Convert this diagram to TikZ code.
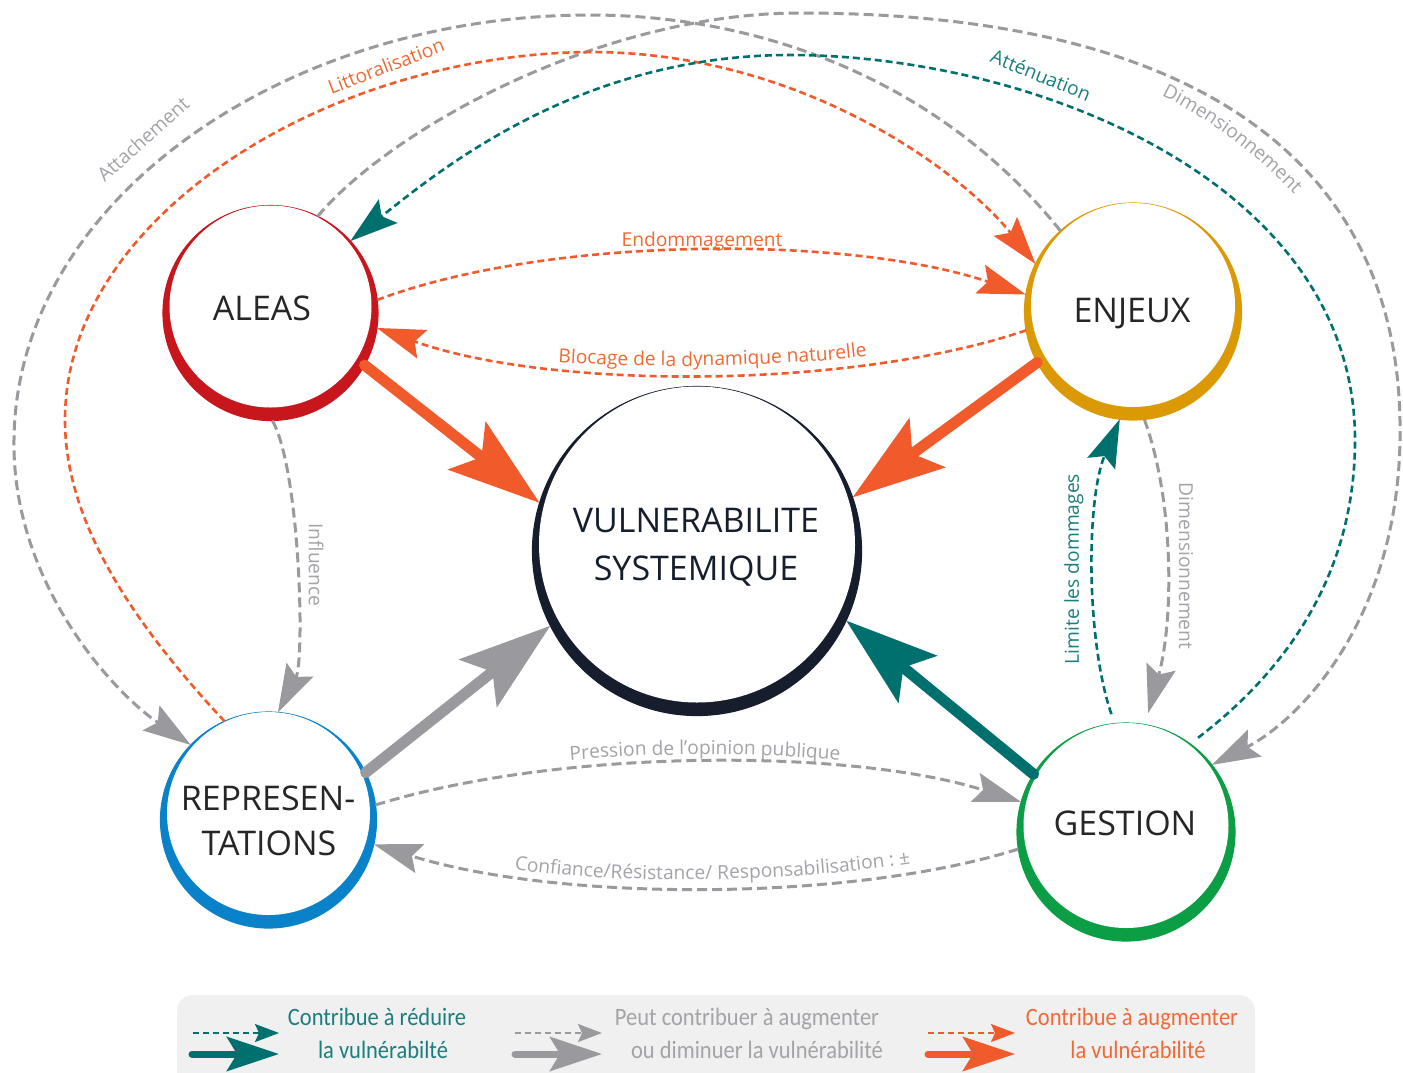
\documentclass[tikz,border=0pt]{standalone}
\usepackage{fontspec}
\setmainfont{Open Sans}
\newfontfamily\legfont{Carlito}[FakeStretch=0.9]
\usetikzlibrary{arrows.meta,decorations.text}
\definecolor{cteal}{HTML}{00706F}
\definecolor{corange}{HTML}{F15A2B}
\definecolor{cgray}{HTML}{9A999E}
\definecolor{cgraytext}{HTML}{A3A3A8}
\definecolor{corangetext}{HTML}{F06A35}
\definecolor{ctealtext}{HTML}{1B7E7E}
\definecolor{cred}{HTML}{C8161D}
\definecolor{cgold}{HTML}{DB9A05}
\definecolor{cblue}{HTML}{0A82CA}
\definecolor{cgreen}{HTML}{0C9E45}
\definecolor{cnavy}{HTML}{161E2E}
\definecolor{clegbg}{HTML}{F0F0F0}
\definecolor{ctext}{HTML}{262626}
\newcommand\ringdraw[5]{%
  \fill[#4] (#1,-#2) circle[radius=#3];
  \draw[#4, line width=0.6pt] (#1,-#2) circle[radius=#3];
  \fill[white] (#1,-#2+#5/2) circle[radius=#3-#5/2];}
\begin{document}
\begin{tikzpicture}[x=0.5pt,y=0.5pt,
  anch/.style={circle, draw=none, inner sep=0pt, outer sep=0pt},
  bigtxt/.style={font=\fontsize{17}{23}\selectfont, text=ctext, anchor=base, inner sep=0pt},
  lab/.style={font=\fontsize{9.6}{11}\selectfont, inner sep=0pt},
  thintip/.style={-{Stealth[length=24pt,width=15pt,inset=4pt]}},
  gline/.style={cgray, line width=1.5pt, dash pattern=on 5pt off 2.5pt, thintip},
  oline/.style={corange, line width=1.3pt, dash pattern=on 3.5pt off 2pt, thintip},
  tline/.style={cteal, line width=1.3pt, dash pattern=on 3.5pt off 2pt, thintip},
  fatarrow/.style={line width=5.5pt, line cap=round, -{Stealth[length=46pt,width=30pt,inset=9pt]}},
  legtxt/.style={font=\legfont\fontsize{12.5}{14}\selectfont, anchor=base, inner sep=0pt},
  legthin/.style={line width=1pt, dash pattern=on 3pt off 2pt, -{Stealth[length=12pt,width=9pt,inset=2pt]}},
  legfat/.style={line width=3.5pt, line cap=round, -{Stealth[length=26pt,width=17pt,inset=5pt]}},
]
\useasboundingbox (0,0) rectangle (1403,-1072);
\fill[white] (0,0) rectangle (1403,-1072);

% rings
\ringdraw{270.5}{313}{107.5}{cred}{13}
\ringdraw{1133}{311.5}{108.5}{cgold}{13}
\ringdraw{697}{551}{164.5}{cnavy}{13}
\ringdraw{268.5}{820}{108}{cblue}{13}
\ringdraw{1126}{832}{109}{cgreen}{13}

% anchor nodes
\node[anch, minimum size=107.5pt] (aleas) at (270.5,-313) {};
\node[anch, minimum size=108.5pt] (enjeux) at (1133,-311.5) {};
\node[anch, minimum size=164.5pt] (vuln) at (697,-551) {};
\node[anch, minimum size=108pt] (repr) at (268.5,-820) {};
\node[anch, minimum size=109pt] (gestion) at (1126,-832) {};

% texts in circles
\node[bigtxt] (taleas) at (262,-320) {ALEAS};
\node[bigtxt] (tenjeux) at (1132,-322) {ENJEUX};
\node[bigtxt] (tgestion) at (1125,-835) {GESTION};
\node[bigtxt] (trepr1) at (268,-810) {REPRESEN-};
\node[bigtxt] (trepr2) at (269,-855) {TATIONS};
\node[bigtxt, text=cnavy] (tvuln1) at (696,-532) {VULNERABILITE};
\node[bigtxt, text=cnavy] (tvuln2) at (696,-580) {SYSTEMIQUE};

% big outer arcs
\draw[gline] (enjeux.132) .. controls (940,-80) and (760,-15) .. (590,-15)
  .. controls (285,-15) and (16,-200) .. (14,-440)
  .. controls (12,-580) and (110,-690) .. (repr.136);
\draw[gline] (aleas.64) .. controls (390,-130) and (600,-13) .. (800,-13)
  .. controls (1180,-13) and (1405,-150) .. (1400,-440)
  .. controls (1397,-620) and (1300,-720) .. (gestion.38);
\draw[oline] (repr.114) .. controls (130,-620) and (65,-520) .. (65,-420)
  .. controls (65,-215) and (330,-54) .. (590,-52)
  .. controls (800,-52) and (960,-170) .. (enjeux.154);
\draw[tline, shorten <=5pt] (gestion.54) .. controls (1300,-660) and (1355,-560) .. (1355,-440)
  .. controls (1355,-180) and (1030,-55) .. (790,-55)
  .. controls (580,-55) and (440,-170) .. (aleas.42);

% inner arcs
\draw[oline] (aleas.7) .. controls (550,-235) and (850,-235) .. (enjeux.171);
\draw[oline] (enjeux.190) .. controls (850,-390) and (550,-390) .. (aleas.-8);
\draw[gline] (aleas.-89) .. controls (300,-470) and (305,-660) .. (repr.85);
\draw[tline, shorten <=5pt] (gestion.96) .. controls (1086,-640) and (1086,-500) .. (enjeux.263);
\draw[gline, shorten >=6pt] (enjeux.-84) .. controls (1174,-500) and (1174,-620) .. (gestion.80);
\draw[gline] (repr.8) .. controls (560,-748) and (850,-748) .. (gestion.164);
\draw[gline] (gestion.189) .. controls (850,-902) and (560,-902) .. (repr.-13);

% thick arrows
\draw[fatarrow, corange] (aleas.-29) -- (vuln.163);
\draw[fatarrow, corange] (enjeux.208) -- (vuln.19);
\draw[fatarrow, cgray] (repr.26) -- (vuln.207);
\draw[fatarrow, cteal] (gestion.148) -- (vuln.-25);

% labels
\node[lab, text=corangetext, anchor=base] (lendo) at (702,-246) {Endommagement};
\node[lab, text=cgraytext, rotate=-90] (linfl) at (316,-565) {Influence};
\node[lab, text=ctealtext, rotate=90] (llim) at (1074,-569) {Limite les dommages};
\node[lab, text=cgraytext, rotate=-90] (ldim) at (1186,-566) {Dimensionnement};
\node[lab, text=corangetext, rotate=21] (llitt) at (386,-66) {Littoralisation};
\node[lab, text=ctealtext, rotate=-22] (latt) at (1041,-75) {Atténuation};
\node[lab, text=cgraytext, rotate=42] (lattach) at (143,-139) {Attachement};
\path[decorate, decoration={text along path, text align=center, text color=cgraytext,
  text={|\fontsize{9.6}{11}\selectfont|Dimensionnement}}]
  (1150,-90) .. controls (1200,-112) and (1256,-152) .. (1303,-204);
\path[decorate, decoration={text along path, text align=center, text color=corangetext,
  text={|\fontsize{9.6}{11}\selectfont|Blocage de la dynamique naturelle}}]
  (540,-361) .. controls (640,-369) and (780,-368) .. (885,-354);
\path[decorate, decoration={text along path, text align=center, text color=cgraytext,
  text={|\fontsize{9.6}{11}\selectfont|Pression de l’opinion publique}}]
  (550,-762) .. controls (650,-752) and (760,-752) .. (860,-762);
\path[decorate, decoration={text along path, text align=center, text color=cgraytext,
  text={|\fontsize{9.6}{11}\selectfont|Confiance/Résistance/ Responsabilisation : ±}}]
  (495,-866) .. controls (600,-886) and (800,-884) .. (930,-860);

% legend
\fill[clegbg, rounded corners=8] (177,-995) rectangle (1255,-1090);
\coordinate (la1) at (193,-1033); \coordinate (lb1) at (279,-1033);
\coordinate (la2) at (192,-1054); \coordinate (lb2) at (279,-1054);
\coordinate (la3) at (515,-1033); \coordinate (lb3) at (602,-1033);
\coordinate (la4) at (515,-1054); \coordinate (lb4) at (602,-1054);
\coordinate (la5) at (928,-1033); \coordinate (lb5) at (1015,-1033);
\coordinate (la6) at (928,-1054); \coordinate (lb6) at (1015,-1054);
\draw[legthin, cteal] (la1) -- (lb1);
\draw[legfat, cteal] (la2) -- (lb2);
\draw[legthin, cgray] (la3) -- (lb3);
\draw[legfat, cgray] (la4) -- (lb4);
\draw[legthin, corange] (la5) -- (lb5);
\draw[legfat, corange] (la6) -- (lb6);
\node[legtxt, text=ctealtext] (lg1) at (377,-1025) {Contribue à réduire};
\node[legtxt, text=ctealtext] (lg2) at (383,-1058) {la vulnérabilté};
\node[legtxt, text=cgraytext] (lg3) at (747,-1025) {Peut contribuer à augmenter};
\node[legtxt, text=cgraytext] (lg4) at (757,-1058) {ou diminuer la vulnérabilité};
\node[legtxt, text=corangetext] (lg5) at (1132,-1025) {Contribue à augmenter};
\node[legtxt, text=corangetext] (lg6) at (1138,-1058) {la vulnérabilité};
\end{tikzpicture}
\end{document}
